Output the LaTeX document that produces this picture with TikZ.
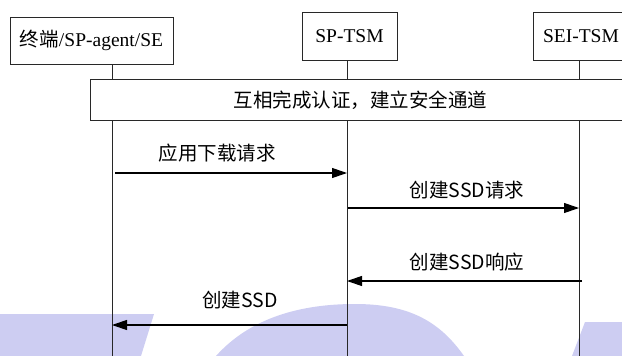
\documentclass[tikz,border=0pt]{standalone}
\usepackage{fontspec}
\setmainfont{Liberation Serif}
\newfontfamily\cjk{Noto Sans CJK SC}
\usetikzlibrary{arrows.meta}
\definecolor{wm}{RGB}{205,205,242}
\definecolor{ln}{RGB}{40,40,40}
\begin{document}
\begin{tikzpicture}[x=1pt,y=-1pt,
 actor/.style={draw=ln, line width=0.9pt, fill=white, minimum height=48pt, inner sep=0pt, font=\fontsize{19.5}{22}\selectfont},
 banner/.style={draw=ln, line width=0.9pt, fill=white, minimum height=41pt, minimum width=540pt, inner sep=0pt, font=\cjk\fontsize{19.5}{22}\selectfont},
 life/.style={draw=ln, line width=0.9pt},
 msg/.style={draw=black, line width=1.1pt, -{Triangle[length=15pt,width=10pt]}},
 lbl/.style={font=\cjk\fontsize{19.5}{22}\selectfont, inner sep=0pt}]
\useasboundingbox (0,0) rectangle (622,356);
\clip (0,0) rectangle (622,356);
% watermark
\fill[wm] (0,314) -- (154,314) -- (141,356) -- (0,356) -- cycle;
\fill[wm] (216,356) .. controls (250,318) and (300,304) .. (355,304) .. controls (410,304) and (440,322) .. (464,356) -- cycle;
\fill[wm] (572,356) -- (585,322) -- (622,322) -- (622,356) -- cycle;
% actors
\node[actor, minimum width=163pt, minimum height=47pt] (a) at (91.5,40.5) {{\cjk 终端}/SP-agent/SE};
\node[actor, minimum width=95pt] (b) at (349.5,36) {SP-TSM};
\node[actor, minimum width=96pt] (c) at (581,36) {SEI-TSM};
% lifelines
\coordinate (l1t) at (112,64);  \coordinate (l1b) at (112,356);
\coordinate (l2t) at (347,60);  \coordinate (l2b) at (347,356);
\coordinate (l3t) at (579,60);  \coordinate (l3b) at (579,356);
\draw[life] (l1t) -- (l1b);
\draw[life] (l2t) -- (l2b);
\draw[life] (l3t) -- (l3b);
% banner
\node[banner, anchor=north west] (ban) at (90,79) {互相完成认证，建立安全通道};
% messages
\coordinate (m1s) at (115,173); \coordinate (m1e) at (347,173);
\coordinate (m2s) at (348,208); \coordinate (m2e) at (579,208);
\coordinate (m3s) at (582,281); \coordinate (m3e) at (347,281);
\coordinate (m4s) at (347,325); \coordinate (m4e) at (112,325);
\draw[msg] (m1s) -- (m1e);
\draw[msg] (m2s) -- (m2e);
\draw[msg] (m3s) -- (m3e);
\draw[msg] (m4s) -- (m4e);
\node[lbl] (t1) at (217,153.5) {应用下载请求};
\node[lbl] (t2) at (467,190) {创建SSD请求};
\node[lbl] (t3) at (467,262) {创建SSD响应};
\node[lbl] (t4) at (240,300) {创建SSD};
\end{tikzpicture}
\end{document}
